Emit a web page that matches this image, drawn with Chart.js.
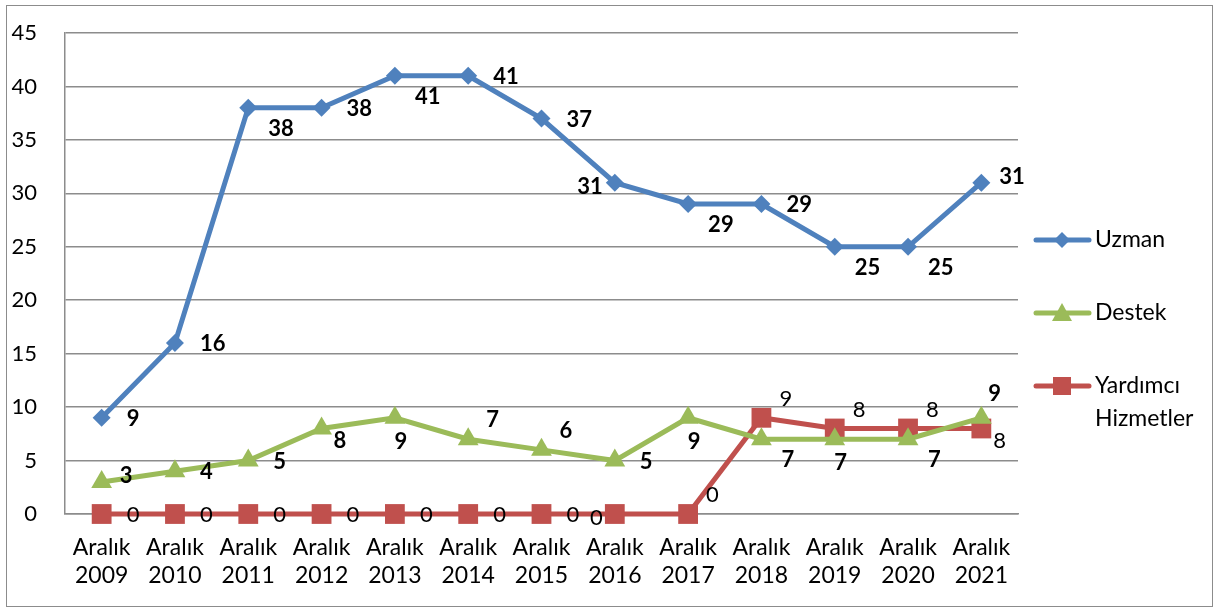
<!DOCTYPE html>
<html>
<head>
<meta charset="utf-8">
<script src="https://cdn.jsdelivr.net/npm/chart.js@4/dist/chart.umd.min.js"></script>
<style>
  html, body { margin: 0; padding: 0; background: #fff; }
  #wrap { width: 1215px; height: 609px; position: relative; }
</style>
</head>
<body>
<div id="wrap"><canvas id="chart" width="1215" height="609"></canvas></div>
<script>
// Data
const years = ['2009', '2010', '2011', '2012', '2013', '2014', '2015', '2016', '2017', '2018', '2019', '2020', '2021'];
const uzman = [9, 16, 38, 38, 41, 41, 37, 31, 29, 29, 25, 25, 31];
const destek = [3, 4, 5, 8, 9, 7, 6, 5, 9, 7, 7, 7, 9];
const yardimci = [0, 0, 0, 0, 0, 0, 0, 0, 0, 9, 8, 8, 8];
const yTicks = [0, 5, 10, 15, 20, 25, 30, 35, 40, 45];

// where each data label sits next to its point
// R right, BR below right, AR above right, UR slightly up right, A above, DR slightly down right, B below, L left
const uzmanLabelPos = ['R', 'R', 'BR', 'R', 'BR', 'R', 'R', 'L', 'BR', 'R', 'BR', 'BR', 'UR'];
const destekLabelPos = ['UR', 'R', 'R', 'DR', 'B', 'AR', 'AR', 'R', 'B', 'BR', 'B', 'BR', 'A'];
const yardimciLabelPos = ['R', 'R', 'R', 'R', 'R', 'R', 'R', 'L', 'AR', 'AR', 'AR', 'AR', 'DR'];

const labels = years.map(y => ['Aralık', y]);
const FONT = 'Lato, "DejaVu Sans", sans-serif';

const blue = '#4F81BD';
const green = '#9BBB59';
const red = '#C0504D';

const placements = {
  R:  { dx: 25,  dy: 1,   align: 'left' },
  BR: { dx: 20,  dy: 21,  align: 'left' },
  AR: { dx: 18,  dy: -19, align: 'left' },
  UR: { dx: 18,  dy: -6,  align: 'left' },
  A:  { dx: 7,   dy: -24, align: 'left' },
  DR: { dx: 12,  dy: 12,  align: 'left' },
  B:  { dx: 6,   dy: 24,  align: 'center' },
  L:  { dx: -12, dy: 4,   align: 'right' }
};

// draws the value labels beside the points
const valueLabels = {
  id: 'valueLabels',
  afterDatasetsDraw(chart) {
    const ctx = chart.ctx;
    chart.data.datasets.forEach((ds, i) => {
      const meta = chart.getDatasetMeta(i);
      ctx.save();
      ctx.fillStyle = '#000';
      ctx.font = (ds.boldLabels ? 'bold ' : '') + '22px ' + FONT;
      ctx.textBaseline = 'middle';
      meta.data.forEach((pt, j) => {
        const p = placements[ds.labelPos[j]];
        ctx.textAlign = p.align;
        ctx.fillText(String(ds.data[j]), pt.x + p.dx, pt.y + p.dy);
      });
      ctx.restore();
    });
  }
};

// legend on the right + outer frame
const sideLegend = {
  id: 'sideLegend',
  afterDraw(chart) {
    const ctx = chart.ctx;
    ctx.save();
    ctx.strokeStyle = '#8c8c8c';
    ctx.lineWidth = 1;
    ctx.strokeRect(6.5, 5.5, 1206, 601);

    const rows = [240, 313, 386];
    chart.data.datasets.forEach((ds, i) => {
      const y = rows[i];
      ctx.strokeStyle = ds.borderColor;
      ctx.lineWidth = 5;
      ctx.lineCap = 'round';
      ctx.beginPath();
      ctx.moveTo(1036, y);
      ctx.lineTo(1089, y);
      ctx.stroke();
      ctx.fillStyle = ds.backgroundColor;
      const cx = 1062;
      if (ds.pointStyle === 'rectRot') {
        ctx.beginPath();
        ctx.moveTo(cx, y - 8); ctx.lineTo(cx + 8, y); ctx.lineTo(cx, y + 8); ctx.lineTo(cx - 8, y);
        ctx.closePath(); ctx.fill();
      } else if (ds.pointStyle === 'triangle') {
        ctx.beginPath();
        ctx.moveTo(cx, y - 10); ctx.lineTo(cx + 10, y + 8); ctx.lineTo(cx - 10, y + 8);
        ctx.closePath(); ctx.fill();
      } else {
        ctx.fillRect(cx - 9, y - 9, 18, 18);
      }
      ctx.fillStyle = '#000';
      ctx.font = '23px ' + FONT;
      ctx.textAlign = 'left';
      ctx.textBaseline = 'middle';
      const lines = ds.label.split(' ');
      lines.forEach((t, k) => ctx.fillText(t, 1095, y + k * 33));
    });
    ctx.restore();
  }
};

new Chart(document.getElementById('chart'), {
  type: 'line',
  data: {
    labels: labels,
    datasets: [
      {
        label: 'Uzman',
        data: uzman,
        borderColor: blue,
        backgroundColor: blue,
        borderWidth: 5,
        pointStyle: 'rectRot',
        pointRadius: 9,
        pointBorderWidth: 0,
        clip: false,
        boldLabels: true,
        labelPos: uzmanLabelPos
      },
      {
        label: 'Destek',
        data: destek,
        borderColor: green,
        backgroundColor: green,
        borderWidth: 5,
        pointStyle: 'triangle',
        pointRadius: 12,
        pointBorderWidth: 0,
        clip: false,
        boldLabels: true,
        labelPos: destekLabelPos
      },
      {
        label: 'Yardımcı Hizmetler',
        data: yardimci,
        borderColor: red,
        backgroundColor: red,
        borderWidth: 5,
        pointStyle: 'rect',
        pointRadius: 14,
        pointBorderWidth: 0,
        clip: false,
        boldLabels: false,
        labelPos: yardimciLabelPos
      }
    ]
  },
  options: {
    responsive: false,
    animation: false,
    layout: { padding: { left: 0, top: 33, right: 197, bottom: 0 } },
    plugins: {
      legend: { display: false },
      tooltip: { enabled: false }
    },
    scales: {
      x: {
        offset: true,
        grid: { display: false, drawTicks: false },
        border: { display: true, color: '#8c8c8c', width: 1.5 },
        ticks: {
          color: '#000',
          font: { family: FONT, size: 23, lineHeight: 1.2 },
          padding: 20,
          maxRotation: 0,
          autoSkip: false
        },
        afterFit(s) { s.height = 609 - 514; }
      },
      y: {
        min: 0,
        max: 45,
        afterBuildTicks(s) { s.ticks = yTicks.map(v => ({ value: v })); },
        grid: { color: '#8c8c8c', lineWidth: 1.5, drawTicks: false },
        border: { display: true, color: '#8c8c8c', width: 1.5 },
        ticks: {
          color: '#000',
          font: { family: FONT, size: 22 },
          padding: 28
        },
        afterFit(s) {
          s.width = 65;
          s.paddingTop = 0;
          s.paddingBottom = 0;
        }
      }
    }
  },
  plugins: [valueLabels, sideLegend]
});
</script>
</body>
</html>
